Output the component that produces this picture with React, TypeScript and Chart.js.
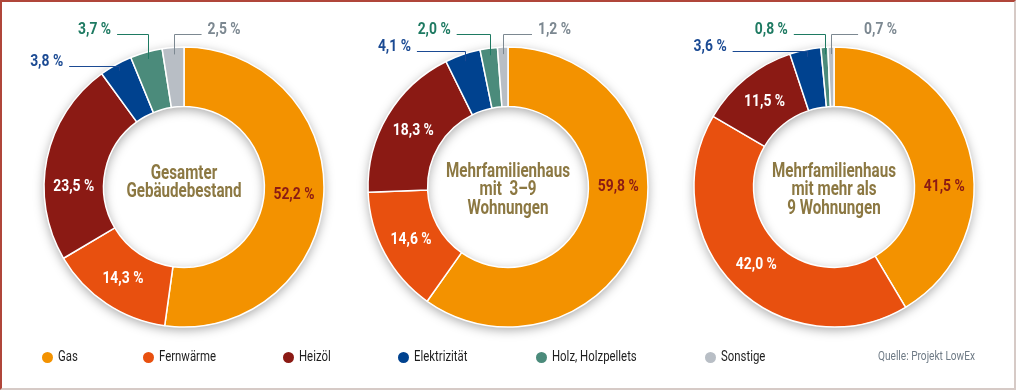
import React, { useEffect, useRef } from 'react';
import { Chart, registerables } from 'chart.js';

Chart.register(...registerables);

// ---------- data ----------
const categories = ['Gas', 'Fernwärme', 'Heizöl', 'Elektrizität', 'Holz, Holzpellets', 'Sonstige'];
const gesamterBestand = [52.2, 14.3, 23.5, 3.8, 3.7, 2.5];
const mfh3bis9 = [59.8, 14.6, 18.3, 4.1, 2.0, 1.2];
const mfhUeber9 = [41.5, 42.0, 11.5, 3.6, 0.8, 0.7];
const centerTitles = [
  ['Gesamter', 'Gebäudebestand'],
  ['Mehrfamilienhaus', 'mit  3–9', 'Wohnungen'],
  ['Mehrfamilienhaus', 'mit mehr als', '9 Wohnungen'],
];
const sourceText = 'Quelle: Projekt LowEx';

// ---------- styles / layout ----------
const sliceColors = ['#F39200', '#E8500F', '#8B1A14', '#00428F', '#4B8B7B', '#B8BEC5'];
const insideLabelColors = ['#8B1A14', '#FFFFFF', '#FFFFFF'];
const calloutColors: Record<number, string> = { 3: '#1B4A93', 4: '#1E7A62', 5: '#7C8891' };
const centerTextColor = '#8C7842';
const FONT = 'Roboto, "Noto Sans", sans-serif';

const chartCentersX = [184, 508, 834];
const chartCenterY = 187;
const CANVAS_W = 340;
const CANVAS_H = 340;

// label placement (clock degrees, 0 = top) where the label is not at the slice middle
const labelAngleOverride: Record<number, number>[] = [{ 2: 270 }, { 0: 90 }, { 0: 90 }];
// callouts for small slices: y of horizontal leader, length, direction
const calloutLayout: Record<number, { lineY: number; len: number; dir: number }>[] = [
  { 3: { lineY: 66, len: 50, dir: -1 }, 4: { lineY: 34, len: 31, dir: -1 }, 5: { lineY: 34, len: 28, dir: 1 } },
  { 3: { lineY: 51, len: 48, dir: -1 }, 4: { lineY: 34, len: 33, dir: -1 }, 5: { lineY: 34, len: 29, dir: 1 } },
  { 3: { lineY: 51, len: 74, dir: -1 }, 4: { lineY: 34, len: 31, dir: -1 }, 5: { lineY: 34, len: 27, dir: 1 } },
];
const centerBlockShift = [-4, 3, 3];

const legendDotX = [47, 148, 288, 403, 541, 710];

const datasetsValues = [gesamterBestand, mfh3bis9, mfhUeber9];

const PCT_FONT = `bold 17px ${FONT}`;
const CENTER_FONT = `bold 20px ${FONT}`;
const LEGEND_FONT = `14.5px ${FONT}`;
const SOURCE_FONT = `13px ${FONT}`;

let measureCtx: CanvasRenderingContext2D | null = null;
function fitScale(font: string, text: string, target: number) {
  if (!measureCtx) measureCtx = document.createElement('canvas').getContext('2d');
  measureCtx!.font = font;
  const w = measureCtx!.measureText(text).width;
  return w > 0 ? Math.min(1, target / w) : 1;
}

function fmt(v: number) {
  return v.toFixed(1).replace('.', ',') + ' %';
}

function drawText(
  ctx: CanvasRenderingContext2D,
  text: string,
  x: number,
  y: number,
  align: CanvasTextAlign,
  font: string,
  color: string,
  sx: number
) {
  ctx.save();
  ctx.font = font;
  ctx.fillStyle = color;
  ctx.textBaseline = 'middle';
  ctx.textAlign = align;
  ctx.translate(x, y);
  ctx.scale(sx, 1);
  ctx.fillText(text, 0, 0);
  ctx.restore();
}

function Donut({ idx }: { idx: number }) {
  const ref = useRef<HTMLCanvasElement>(null);
  useEffect(() => {
    const values = datasetsValues[idx];
    const canvas = ref.current!;
    const pctScale = fitScale(PCT_FONT, '52,2 %', 41);
    const centerScale = fitScale(CENTER_FONT, 'Mehrfamilienhaus', 124);
    const ringShadow = {
      id: 'ringShadow',
      beforeDatasetsDraw(chart: any) {
        const el = chart.getDatasetMeta(0).data[0];
        if (!el) return;
        const p = el.getProps(['x', 'y', 'outerRadius', 'innerRadius'], true);
        const ctx = chart.ctx as CanvasRenderingContext2D;
        ctx.save();
        ctx.beginPath();
        ctx.arc(p.x, p.y, p.outerRadius, 0, Math.PI * 2);
        ctx.arc(p.x, p.y, p.innerRadius, 0, Math.PI * 2, true);
        ctx.closePath();
        ctx.shadowColor = 'rgba(0,0,0,0.35)';
        ctx.shadowBlur = 11;
        ctx.shadowOffsetY = 3;
        ctx.fillStyle = '#ffffff';
        ctx.fill();
        ctx.restore();
      },
    };
    const labels = {
      id: 'sliceLabels',
      afterDatasetsDraw(chart: any) {
        const ctx = chart.ctx as CanvasRenderingContext2D;
        const meta = chart.getDatasetMeta(0);
        meta.data.forEach((el: any, i: number) => {
          const p = el.getProps(['x', 'y', 'startAngle', 'endAngle', 'outerRadius', 'innerRadius'], true);
          const text = fmt(values[i]);
          let a = (p.startAngle + p.endAngle) / 2;
          const co = calloutLayout[idx][i];
          if (!co) {
            const ov = labelAngleOverride[idx][i];
            if (ov !== undefined) a = ((ov - 90) * Math.PI) / 180;
            const r = (p.outerRadius + p.innerRadius) / 2;
            drawText(ctx, text, p.x + Math.cos(a) * r, p.y + Math.sin(a) * r, 'center', PCT_FONT, insideLabelColors[i], pctScale);
          } else {
            const r = p.outerRadius - 7;
            const ax = p.x + Math.cos(a) * r;
            const ay = p.y + Math.sin(a) * r;
            const ly = co.lineY - (chartCenterY - p.y);
            const ex = ax + co.dir * co.len;
            const col = calloutColors[i];
            ctx.save();
            ctx.strokeStyle = col;
            ctx.lineWidth = 1;
            ctx.beginPath();
            ctx.moveTo(Math.round(ax) + 0.5, ay);
            ctx.lineTo(Math.round(ax) + 0.5, Math.round(ly) + 0.5);
            ctx.lineTo(ex, Math.round(ly) + 0.5);
            ctx.stroke();
            ctx.restore();
            drawText(ctx, text, ex + co.dir * 6, ly - 4, co.dir < 0 ? 'right' : 'left', PCT_FONT, col, pctScale);
          }
        });
      },
      afterDraw(chart: any) {
        const ctx = chart.ctx as CanvasRenderingContext2D;
        const el = chart.getDatasetMeta(0).data[0];
        if (!el) return;
        const p = el.getProps(['x', 'y'], true);
        const lines = centerTitles[idx];
        const lh = 18.5;
        const top = p.y + centerBlockShift[idx] - ((lines.length - 1) * lh) / 2;
        lines.forEach((t, k) => {
          drawText(ctx, t, p.x, top + k * lh, 'center', CENTER_FONT, centerTextColor, centerScale);
        });
      },
    };
    const chart = new Chart(canvas, {
      type: 'doughnut',
      data: {
        labels: categories,
        datasets: [
          {
            data: values,
            backgroundColor: sliceColors,
            borderColor: '#ffffff',
            borderWidth: 1.5,
            hoverOffset: 0,
          },
        ],
      },
      options: {
        responsive: false,
        animation: false,
        events: [],
        radius: 140,
        cutout: 80,
        layout: { padding: { top: 30, bottom: 30, left: 30, right: 30 } },
        plugins: { legend: { display: false }, tooltip: { enabled: false } },
      } as any,
      plugins: [ringShadow, labels],
    });
    return () => chart.destroy();
  }, [idx]);
  return (
    <canvas
      ref={ref}
      width={CANVAS_W}
      height={CANVAS_H}
      style={{
        position: 'absolute',
        left: chartCentersX[idx] - CANVAS_W / 2,
        top: chartCenterY - CANVAS_H / 2,
        width: CANVAS_W,
        height: CANVAS_H,
      }}
    />
  );
}

export default function App() {
  const legendScale = fitScale(LEGEND_FONT, 'Fernwärme', 57);
  const sourceScale = fitScale(SOURCE_FONT, sourceText, 97);
  return (
    <div
      style={{
        position: 'fixed',
        left: 0,
        top: 0,
        width: 1016,
        height: 390,
        boxSizing: 'border-box',
        background: '#ffffff',
        borderTop: '2px solid #B0463A',
        borderLeft: '2px solid #B0463A',
        borderRight: '2px solid #D6CAC6',
        borderBottom: '2px solid #D6CAC6',
        overflow: 'hidden',
        fontFamily: FONT,
      }}
    >
      <div style={{ position: 'absolute', left: -2, top: -2, width: 1016, height: 390 }}>
        <Donut idx={0} />
        <Donut idx={1} />
        <Donut idx={2} />
        {categories.map((c, i) => (
          <React.Fragment key={c}>
            <span
              style={{
                position: 'absolute',
                left: legendDotX[i] - 5.5,
                top: 351.5,
                width: 11,
                height: 11,
                borderRadius: '50%',
                background: sliceColors[i],
              }}
            />
            <span
              style={{
                position: 'absolute',
                left: legendDotX[i] + 11,
                top: 348,
                height: 18,
                lineHeight: '18px',
                font: LEGEND_FONT,
                color: '#1E1E1E',
                whiteSpace: 'nowrap',
                transform: `scaleX(${legendScale})`,
                transformOrigin: 'left center',
              }}
            >
              {c}
            </span>
          </React.Fragment>
        ))}
        <span
          style={{
            position: 'absolute',
            left: 975,
            top: 348,
            height: 18,
            lineHeight: '18px',
            font: SOURCE_FONT,
            color: '#6F7B86',
            whiteSpace: 'nowrap',
            transform: `translateX(-100%) scaleX(${sourceScale})`,
            transformOrigin: 'right center',
          }}
        >
          {sourceText}
        </span>
      </div>
    </div>
  );
}
